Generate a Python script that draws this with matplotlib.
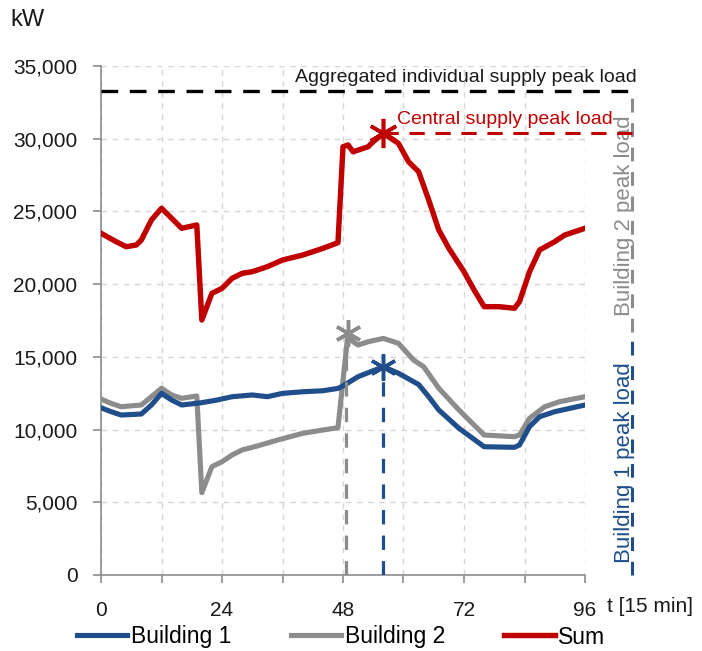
import matplotlib
matplotlib.use("Agg")
import matplotlib.pyplot as plt
from matplotlib.ticker import FuncFormatter

plt.rcParams['font.family'] = ['Liberation Sans', 'DejaVu Sans']

# ---- data ----
t_b1 = [0, 2, 4, 8, 10, 12, 14, 16, 20, 23, 26, 30, 33, 36, 40, 44, 47, 48, 51, 56, 59, 63, 65, 67, 71, 76, 82, 83, 85, 87, 90, 96]
b1 = [11500, 11230, 11000, 11070, 11690, 12490, 12030, 11690, 11850, 12030, 12260, 12380, 12260, 12490, 12600, 12670, 12830, 13000,
      13640, 14320, 13870, 13100, 12260, 11345, 10090, 8820, 8780, 8940, 10200, 10885, 11230, 11690]

t_b2 = [0, 2, 4, 8, 10, 12, 14, 16, 19, 20, 22, 24, 26, 28, 31, 35, 40, 44, 47, 49, 50, 51, 53, 56, 59, 62, 64, 67, 71, 76, 82, 83, 85, 88, 91, 96]
b2 = [12100, 11800, 11570, 11690, 12260, 12840, 12380, 12150, 12310, 5660, 7450, 7790, 8250, 8600, 8870, 9280, 9740, 9970, 10130,
      16620, 16040, 15815, 16040, 16270, 15930, 14780, 14320, 12840, 11345, 9625, 9510, 9625, 10775, 11570, 11920, 12260]

t_sum = [0, 3, 5, 7, 8, 10, 12, 14, 16, 19, 20, 22, 24, 26, 28, 30, 33, 36, 40, 44, 47, 48, 49, 50, 53, 54, 56, 59, 61, 63, 65, 67,
         69, 72, 74, 76, 79, 82, 83, 85, 87, 90, 92, 96]
s_sum = [23500, 22920, 22575, 22690, 23035, 24410, 25215, 24530, 23840, 24070, 17535, 19370, 19710, 20400, 20745, 20855, 21200,
         21660, 22000, 22460, 22850, 29450, 29570, 29100, 29450, 29800, 30370, 29680, 28420, 27730, 25785, 23720, 22460, 20855,
         19600, 18450, 18450, 18340, 18790, 20855, 22350, 22920, 23380, 23840]

peak_b1_t, peak_b1 = 56, 14320
peak_b2_t, peak_b2 = 49, 16620
peak_sum_t, peak_sum = 56, 30370
aggregated_peak = 33300

xticks = list(range(0, 97, 12))
xlabels = ['0', '', '24', '', '48', '', '72', '', '96']
yticks = list(range(0, 35001, 5000))

BLUE = '#1f4e8a'
GRAY = '#8c8c8c'
RED = '#c00000'

fig = plt.figure(figsize=(7.02, 6.51), dpi=100)
ax = fig.add_axes([101/702, 1-575/651, 484/702, 509/651])

ax.set_xlim(0, 96)
ax.set_ylim(0, 35000)

ax.set_xticks(xticks)
ax.set_xticklabels(xlabels)
ax.set_yticks(yticks)
ax.yaxis.set_major_formatter(FuncFormatter(lambda v, p: f"{int(v):,}"))
ax.grid(True, color='#d6d6d6', linestyle=(0, (4, 4)), linewidth=1.0)
ax.set_axisbelow(True)

for s in ['top', 'right']:
    ax.spines[s].set_visible(False)
for s in ['left', 'bottom']:
    ax.spines[s].set_color('#8c8c8c')
    ax.spines[s].set_linewidth(1.2)
ax.tick_params(axis='both', direction='out', length=6, width=1.2, color='#8c8c8c',
               labelsize=15, labelcolor='#1a1a1a')
ax.tick_params(axis='y', pad=11)
ax.tick_params(axis='x', pad=13)

# main lines
lb1, = ax.plot(t_b1, b1, color=BLUE, lw=3.7, label='Building 1', solid_joinstyle='round', zorder=4)
lb2, = ax.plot(t_b2, b2, color=GRAY, lw=3.7, label='Building 2', solid_joinstyle='round', zorder=3)
lsum, = ax.plot(t_sum, s_sum, color=RED, lw=3.9, label='Sum', solid_joinstyle='round', zorder=4)

# peak markers
star = (6, 2, 0)
ax.plot([peak_b1_t], [peak_b1], marker=star, ms=19, mew=2.5, color=BLUE, zorder=6)
ax.plot([peak_b2_t], [peak_b2], marker=star, ms=19, mew=2.5, color=GRAY, zorder=6)
ax.plot([peak_sum_t], [peak_sum], marker=star, ms=21, mew=2.6, color=RED, zorder=6)

# vertical dashed drop lines
ax.plot([peak_b1_t, peak_b1_t], [0, peak_b1], color=BLUE, lw=2.3, dashes=(4.5, 3.5), zorder=5)
ax.plot([peak_b2_t - 0.5, peak_b2_t - 0.5], [0, peak_b2], color=GRAY, lw=2.3, dashes=(4.5, 3.5), zorder=5)

# horizontal peak lines
ax.plot([0, 106.3], [aggregated_peak, aggregated_peak], color='black', lw=2.4, dashes=(5, 3.5),
        clip_on=False, zorder=5)
ax.plot([peak_sum_t, 106.3], [peak_sum, peak_sum], color=RED, lw=2.2, dashes=(5, 3.5),
        clip_on=False, zorder=5)

# right side stacked peak indicator
xr = 105.3
ax.plot([xr, xr], [0, 16300], color=BLUE, lw=2.2, dashes=(4.5, 3.5), clip_on=False, zorder=2)
ax.plot([xr, xr], [16700, 32900], color=GRAY, lw=2.2, dashes=(4.5, 3.5), clip_on=False, zorder=2)

ax.text(103.9, 7700, 'Building 1 peak load', rotation=90, color=BLUE, fontsize=16,
        ha='center', va='center', clip_on=False)
ax.text(103.9, 24700, 'Building 2 peak load', rotation=90, color=GRAY, fontsize=16,
        ha='center', va='center', clip_on=False)

ax.text(106.3, 33650, 'Aggregated individual supply peak load', color='#1a1a1a', fontsize=14,
        ha='right', va='bottom', clip_on=False)
ax.text(101.5, 30750, 'Central supply peak load', color=RED, fontsize=14,
        ha='right', va='bottom', clip_on=False)

# axis labels
fig.text(10/702, 1-20/651, 'kW', fontsize=17, color='#1a1a1a', ha='left', va='center')
fig.text(607/702, 1-606/651, 't [15 min]', fontsize=15, color='#1a1a1a', ha='left', va='center')

# legend
fig.legend(handles=[lb1, lb2, lsum], loc='center', bbox_to_anchor=(0.486, 1-637/651), ncol=3,
           frameon=False, fontsize=16.5, handlelength=2.2, handletextpad=0.15, columnspacing=2.6,
           borderpad=0, borderaxespad=0)

fig.savefig('out.png', dpi=100)
